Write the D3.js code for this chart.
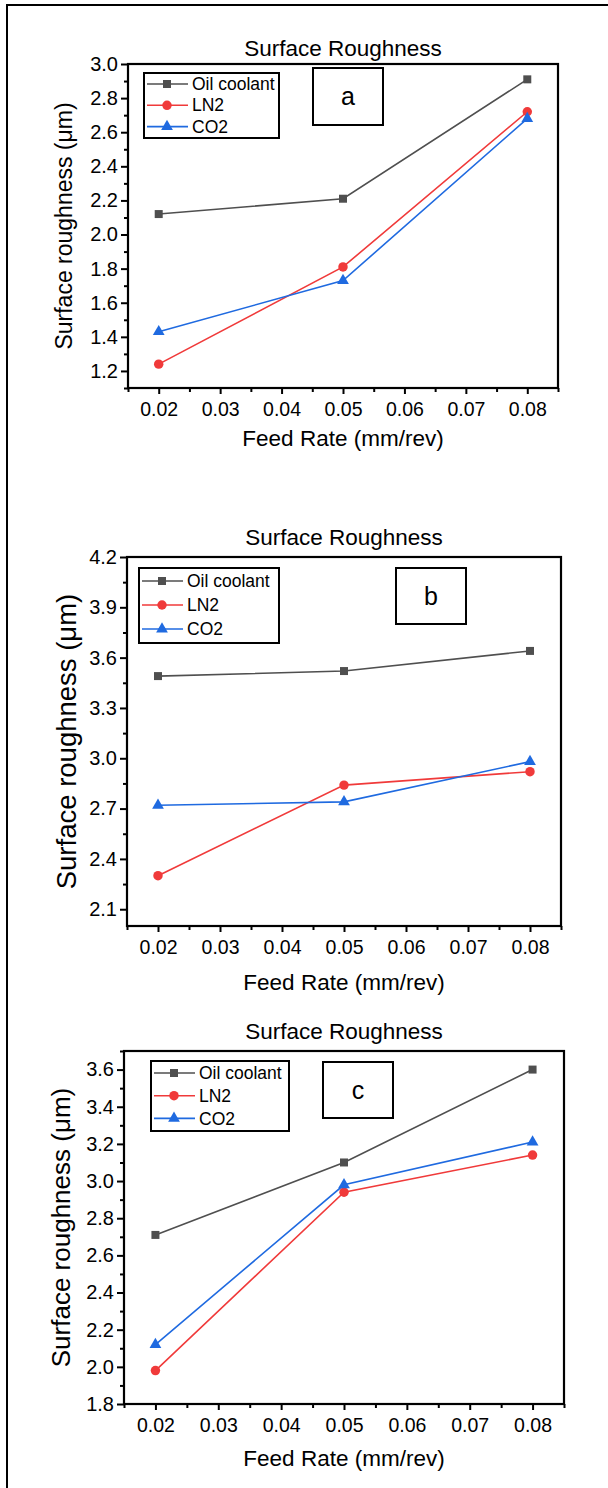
<!DOCTYPE html>
<html>
<head>
<meta charset="utf-8">
<script src="https://cdn.jsdelivr.net/npm/d3@7"></script>
<style>
body { margin: 0; background: #fff; }
svg { display: block; }
text { font-family: "Liberation Sans", Arial, sans-serif; fill: #000; }
</style>
</head>
<body>
<svg id="chart" width="608" height="1488"></svg>
<script>
// data
var feedRates = [0.02, 0.05, 0.08];
var seriesNames = ['Oil coolant', 'LN2', 'CO2'];
var seriesColors = ['#4f4f4f', '#f03a3a', '#1f6ae0'];
var xTickLabels = [0.02, 0.03, 0.04, 0.05, 0.06, 0.07, 0.08];

var oilA = [2.12, 2.21, 2.91];
var ln2A = [1.24, 1.81, 2.72];
var co2A = [1.43, 1.73, 2.68];
var yTicksA = [1.2, 1.4, 1.6, 1.8, 2.0, 2.2, 2.4, 2.6, 2.8, 3.0];

var oilB = [3.49, 3.52, 3.64];
var ln2B = [2.30, 2.84, 2.92];
var co2B = [2.72, 2.74, 2.98];
var yTicksB = [2.1, 2.4, 2.7, 3.0, 3.3, 3.6, 3.9, 4.2];

var oilC = [2.71, 3.10, 3.60];
var ln2C = [1.98, 2.94, 3.14];
var co2C = [2.12, 2.98, 3.21];
var yTicksC = [1.8, 2.0, 2.2, 2.4, 2.6, 2.8, 3.0, 3.2, 3.4, 3.6];

var svg = d3.select('#chart');

// outer frame (only left and top edges show in the picture)
svg.append('rect').attr('x', 7).attr('y', 5).attr('width', 620).attr('height', 1500)
    .attr('fill', 'none').attr('stroke', '#000').attr('stroke-width', 2);

var symbols = [d3.symbolSquare, d3.symbolCircle, d3.symbolTriangle];
var symbolSizes = [64, 70, 60];

function drawPanel(p) {
    var x = d3.scaleLinear().domain([0.015, 0.085]).range([p.left, p.right]);
    var y = d3.scaleLinear().domain(p.yDomain).range([p.bottom, p.top]);
    var g = svg.append('g');

    // title
    g.append('text').attr('x', (p.left + p.right) / 2).attr('y', p.titleY).attr('dy', '0.35em')
        .attr('text-anchor', 'middle').attr('font-size', 22.5).text('Surface Roughness');

    // axes
    var xAxis = d3.axisBottom(x).tickValues(xTickLabels).tickFormat(d3.format('.2f')).tickSize(6).tickPadding(8);
    var xMinor = d3.axisBottom(x).tickValues(d3.range(0.015, 0.0851, 0.01)).tickFormat('').tickSize(4);
    var yAxis = d3.axisLeft(y).tickValues(p.yTicks).tickFormat(d3.format('.1f')).tickSize(7).tickPadding(3);
    var yMinor = d3.axisLeft(y).tickValues(p.yMinor).tickFormat('').tickSize(4);

    [xAxis, xMinor].forEach(function (ax) {
        var a = g.append('g').attr('transform', 'translate(0,' + p.bottom + ')').call(ax);
        a.select('.domain').remove();
        a.selectAll('line').attr('stroke-width', 2);
        a.selectAll('text').attr('font-size', 19.5).attr('font-family', '"Liberation Sans", Arial, sans-serif');
    });
    [yAxis, yMinor].forEach(function (ax) {
        var a = g.append('g').attr('transform', 'translate(' + p.left + ',0)').call(ax);
        a.select('.domain').remove();
        a.selectAll('line').attr('stroke-width', 2);
        a.selectAll('text').attr('font-size', 20).attr('font-family', '"Liberation Sans", Arial, sans-serif');
    });

    // frame
    g.append('rect').attr('x', p.left).attr('y', p.top)
        .attr('width', p.right - p.left).attr('height', p.bottom - p.top)
        .attr('fill', 'none').attr('stroke', '#000').attr('stroke-width', 2.2);

    // axis labels
    g.append('text').attr('x', (p.left + p.right) / 2).attr('y', p.bottom + p.xLabelOff).attr('dy', '0.35em')
        .attr('text-anchor', 'middle').attr('font-size', 22.5).text('Feed Rate (mm/rev)');
    g.append('text').attr('transform', 'translate(' + p.yLabelX + ',' + (p.top + p.bottom) / 2 + ') rotate(-90)')
        .attr('dy', '0.35em').attr('text-anchor', 'middle').attr('font-size', p.yLabelSize)
        .text('Surface roughness (\u03bcm)');

    // series
    var line = d3.line().x(function (d, i) { return x(feedRates[i]); }).y(function (d) { return y(d); });
    p.series.forEach(function (vals, k) {
        g.append('path').datum(vals).attr('d', line).attr('fill', 'none')
            .attr('stroke', seriesColors[k]).attr('stroke-width', 1.6);
        g.selectAll('.m' + k).data(vals).join('path').attr('class', 'm' + k)
            .attr('transform', function (d, i) { return 'translate(' + x(feedRates[i]) + ',' + y(d) + ')'; })
            .attr('d', d3.symbol().type(symbols[k]).size(symbolSizes[k]))
            .attr('fill', seriesColors[k]);
    });

    // legend
    var L = p.legend;
    g.append('rect').attr('x', L.x).attr('y', L.y).attr('width', L.w).attr('height', L.h)
        .attr('fill', '#fff').attr('stroke', '#000').attr('stroke-width', 2);
    seriesNames.forEach(function (name, k) {
        var ry = L.y + L.first + k * L.row;
        g.append('line').attr('x1', L.x + 3).attr('x2', L.x + 44).attr('y1', ry).attr('y2', ry)
            .attr('stroke', seriesColors[k]).attr('stroke-width', 1.6);
        g.append('path').attr('transform', 'translate(' + (L.x + 23) + ',' + ry + ')')
            .attr('d', d3.symbol().type(symbols[k]).size(symbolSizes[k])).attr('fill', seriesColors[k]);
        g.append('text').attr('x', L.x + 48).attr('y', ry).attr('dy', '0.35em')
            .attr('font-size', 17.5).text(name);
    });

    // panel letter box
    var B = p.box;
    g.append('rect').attr('x', B.x).attr('y', B.y).attr('width', B.w).attr('height', B.h)
        .attr('fill', 'none').attr('stroke', '#000').attr('stroke-width', 2);
    g.append('text').attr('x', B.x + B.w / 2).attr('y', B.y + B.h / 2).attr('dy', '0.35em')
        .attr('text-anchor', 'middle').attr('font-size', 25).text(p.letter);
}

drawPanel({
    left: 128, right: 558, top: 64, bottom: 388,
    yDomain: [1.1, 3.0], yTicks: yTicksA, yMinor: d3.range(1.1, 3.0, 0.2),
    titleY: 48, xLabelOff: 50, yLabelX: 64, yLabelSize: 23,
    series: [oilA, ln2A, co2A],
    legend: { x: 144, y: 73, w: 135, h: 65, first: 11, row: 21.3 },
    box: { x: 313, y: 68, w: 70, h: 57 }, letter: 'a'
});

drawPanel({
    left: 127, right: 561, top: 557, bottom: 926,
    yDomain: [2.0, 4.2], yTicks: yTicksB, yMinor: d3.range(2.25, 4.2, 0.3),
    titleY: 537, xLabelOff: 56, yLabelX: 66, yLabelSize: 27.5,
    series: [oilB, ln2B, co2B],
    legend: { x: 139, y: 568, w: 140, h: 75, first: 13, row: 24 },
    box: { x: 396, y: 568, w: 70, h: 56 }, letter: 'b'
});

drawPanel({
    left: 124, right: 564, top: 1051, bottom: 1404,
    yDomain: [1.8, 3.7], yTicks: yTicksC, yMinor: d3.range(1.9, 3.71, 0.2),
    titleY: 1031, xLabelOff: 54, yLabelX: 61, yLabelSize: 26,
    series: [oilC, ln2C, co2C],
    legend: { x: 151, y: 1061, w: 138, h: 70, first: 12, row: 22.7 },
    box: { x: 323, y: 1062, w: 70, h: 56 }, letter: 'c'
});
</script>
</body>
</html>
